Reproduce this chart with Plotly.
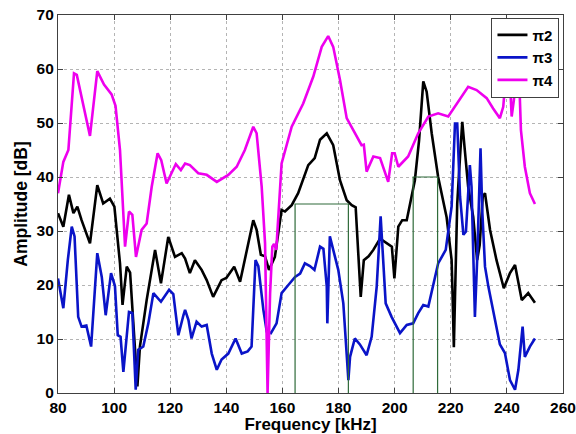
import plotly.graph_objects as go

# ---- data ----
freq_pi2 = [80, 81.9, 83.9, 85.5, 86.9, 88.4, 91.4, 94, 96.1, 98.5, 100.1, 102.1, 103, 104.5, 105.7,
            108.3, 109.2, 111.6, 114.6, 116.7, 119.3, 121.7, 124.1, 125.3, 127, 128.8, 131.2, 133,
            135.3, 138.3, 140, 142.8, 144.9, 147.8, 149.6, 150.8, 152.3, 153.8, 155.2, 157.3, 159.7,
            160.9, 163.3, 165.6, 169.2, 171.5, 173.4, 175.8, 178.1, 180.5, 182.9, 184.7, 186.1, 187.9,
            189, 190.7, 192.4, 194.8, 197.1, 199, 199.9, 201.3, 202.7, 204.3, 207.2, 208.7, 210.2,
            211.4, 213.2, 215.5, 218.5, 220.3, 220.6, 221.1, 221.5, 222.3, 223.3, 224.1, 225, 226.2,
            228, 229.4, 230.3, 231.4, 232.2, 234, 236.3, 238.9, 241.1, 242.9, 245.3, 247.6, 250]
amp_pi2 = [33.3, 30.8, 36.7, 33.3, 34.5, 32, 27.7, 38.5, 35.1, 36, 34.5, 24, 16.3, 23.4, 22.3,
           1.2, 8.6, 17.2, 26.5, 20.3, 28.9, 25.2, 25.9, 24.9, 22.2, 24.6, 22.8, 20.9,
           17.8, 20.9, 21.3, 23.4, 20.6, 27.7, 32, 30.2, 25.6, 25.3, 22.8, 25.2, 33.9,
           33.6, 34.8, 37, 42.2, 43.5, 46.9, 48.1, 45.9, 39.4, 35.7, 34.8, 34.4, 17.8,
           24.6, 25.3, 26.5, 28.6, 27.7, 27.1, 21.2, 30.8, 32, 32, 39.4, 46.8, 57.7,
           55.8, 48.1, 40, 32.6, 24.6, 19, 8.5, 17.7, 35.1, 43.8, 50.2, 45, 38.2,
           32.6, 24.6, 27.4, 36.4, 37, 30.2, 24.6, 19.4, 22.2, 23.7, 17.2, 18.5, 16.7]

freq_pi3 = [80, 81.9, 83.5, 84.9, 85.9, 87.2, 88.4, 90.1, 91.8, 94, 95.6, 97, 98.9, 100.3, 101.3,
            102.3, 103.3, 105.3, 106.5, 107.7, 108.6, 110.4, 112.2, 114, 116.7, 119.6, 121.1, 122.9,
            124.7, 125.3, 126.5, 127.6, 129.4, 131.2, 133, 134.8, 136.6, 138.3, 140.7, 143.3, 145.5,
            147.6, 149, 150.4, 151.4, 153.2, 154.4, 155.9, 157.9, 159.7, 162.1, 164.5, 166.3, 168,
            169.8, 171.4, 173.4, 174.6, 175.8, 176, 176.9, 178.1, 179.9, 181.7, 182.9, 183.5, 184.1,
            185.8, 187.6, 190, 191.8, 193.6, 195, 195.8, 196.8, 198.9, 201.9, 204.3, 206.6, 208.4,
            210.2, 212, 213.7, 215.5, 218.2, 220.3, 221.5, 222.3, 223.3, 224.5, 225.4, 226.8, 227.4,
            228.6, 229.4, 230.6, 231.2, 232.2, 233.4, 235.1, 237.5, 239.3, 241.1, 242.9, 244.1,
            245.6, 246.4, 248.2, 250]
amp_pi3 = [21.2, 15.7, 24.6, 30.8, 29, 14.1, 12.3, 12.5, 8.6, 25.9, 21.5, 14.4, 22.2, 19.8, 10.7,
           10.4, 3.9, 15, 14.8, 0.6, 8, 8.6, 12.9, 18.5, 16.9, 19.1, 18.3, 10.7,
           14.4, 15.4, 13.5, 10.1, 13.2, 12.3, 12.6, 7.3, 4.3, 6.2, 7.3, 10.1, 7.3,
           7.7, 8.6, 24.6, 23.5, 15.4, 11.4, 11.1, 12.9, 18.5, 20, 21.5, 22.1, 24,
           23.5, 22.8, 27.1, 26.7, 19.7, 12.9, 29, 26.7, 22.8, 16.6, 6.7, 2.4, 6.7,
           10.1, 9, 7, 10.4, 19.7, 32.7, 25.6, 16.6, 14.1, 11.1, 12.6, 12.9, 14.8,
           16.3, 16, 19.7, 24, 26.5, 34.5, 49.9, 49.9, 36.4, 29.3, 29.9, 42.2, 38.2,
           14.1, 24.6, 45.3, 34, 23.4, 19.7, 15.5, 9, 7.4, 2.4, 0.6, 4.3,
           12.3, 6.7, 8.6, 10.1]

freq_pi4 = [80, 81.9, 83.7, 85.7, 86.7, 91.4, 94, 96.4, 99.1, 100.5, 102.1, 103.3, 103.9, 105.3,
            106.5, 107.8, 109.8, 111.6, 113.4, 115.5, 116.8, 118.7, 120.3, 122, 123.8, 125.3, 127,
            130, 133, 136.6, 140.7, 143.7, 146.6, 149.6, 150.8, 152.6, 153.8, 154.7, 155.6, 156.4,
            157, 157.8, 159.7, 163.3, 167.4, 171, 174, 176.3, 178.1, 180.5, 182.9, 185.8, 188.2,
            189, 190, 192.4, 194.8, 197.7, 199.1, 200, 201.3, 204.8, 208.4, 212, 215.5, 219.1,
            222.1, 226.2, 229.2, 232.8, 235.1, 237.5, 238.7, 239.9, 240.8, 241.7, 242.5, 243.2,
            243.8, 244.4, 245, 246.4, 248.2, 250]
amp_pi4 = [37, 42.8, 45, 59.2, 58.9, 47.6, 59.6, 57.1, 55.3, 53.2, 45, 34.5, 27.1, 33.6,
           33, 25.2, 30.2, 31.4, 38.2, 44.4, 43.1, 38.8, 40.4, 42.4, 41.3, 42.5, 42.2,
           40.7, 40.4, 39.1, 40.4, 41.9, 45, 49.3, 48.1, 38.2, 27.7, 0, 18.5, 27.1,
           27.6, 26.5, 42.5, 49.3, 53.6, 58.6, 64.1, 66.1, 64.1, 58, 50.9, 48.1, 45.9,
           46, 41, 43.8, 43.5, 39.1, 44.4, 44.4, 41.9, 43.8, 48.1, 51.2, 51.8, 51.2,
           53.6, 56.7, 56.1, 54.6, 52.7, 50.9, 53, 60.4, 60.8, 51.2, 54.3, 58.3,
           55, 58, 48.7, 41.9, 37, 35]

# highlighted frequency bands (green boxes)
box_freq = [164.5, 164.5, 183.5, 183.5, None, 206.6, 206.6, 215.3, 215.3]
box_amp = [0, 35, 35, 0, None, 0, 40, 40, 0]

x_ticks = [80, 100, 120, 140, 160, 180, 200, 220, 240, 260]
y_ticks = [0, 10, 20, 30, 40, 50, 60, 70]

FONT = "Liberation Sans, Arial, sans-serif"

fig = go.Figure()
fig.add_trace(go.Scatter(x=freq_pi2, y=amp_pi2, mode="lines", name="π2",
                         line=dict(color="#000000", width=2.6)))
fig.add_trace(go.Scatter(x=freq_pi3, y=amp_pi3, mode="lines", name="π3",
                         line=dict(color="#0a14c8", width=2.6)))
fig.add_trace(go.Scatter(x=freq_pi4, y=amp_pi4, mode="lines", name="π4",
                         line=dict(color="#ee00ee", width=2.6)))
fig.add_trace(go.Scatter(x=box_freq, y=box_amp, mode="lines", showlegend=False,
                         line=dict(color="#2f6b3a", width=1.2), hoverinfo="skip"))

axis_common = dict(
    showline=True, linecolor="#404040", linewidth=1.2, mirror="ticks",
    ticks="inside", ticklen=5, tickcolor="#404040",
    showgrid=True, gridcolor="#b4b4b4", griddash="dot", gridwidth=1,
    zeroline=False, automargin=False, ticklabeloverflow="allow",
    tickfont=dict(family=FONT, size=15.5, color="#000000", weight="bold"),
)

fig.update_xaxes(range=[80, 260], tickvals=x_ticks,
                 title=dict(text="Frequency [kHz]", standoff=8,
                            font=dict(family=FONT, size=17, color="#000000", weight="bold")),
                 **axis_common)
fig.update_yaxes(range=[0, 70], tickvals=y_ticks,
                 title=dict(text="Amplitude [dB]", standoff=4,
                            font=dict(family=FONT, size=17.5, color="#000000", weight="bold")),
                 **axis_common)

fig.update_layout(
    width=576, height=434,
    margin=dict(l=58, r=13, t=15, b=41),
    paper_bgcolor="#ffffff", plot_bgcolor="#ffffff",
    showlegend=True,
    legend=dict(x=0.993, y=0.993, xanchor="right", yanchor="top",
                bgcolor="#ffffff", bordercolor="#404040", borderwidth=1,
                font=dict(family=FONT, size=15, color="#000000", weight="bold"),
                itemwidth=30, tracegroupgap=0),
)

fig.write_html("out.html", config={"displayModeBar": False},
               post_script="document.body.style.margin='0px';")
